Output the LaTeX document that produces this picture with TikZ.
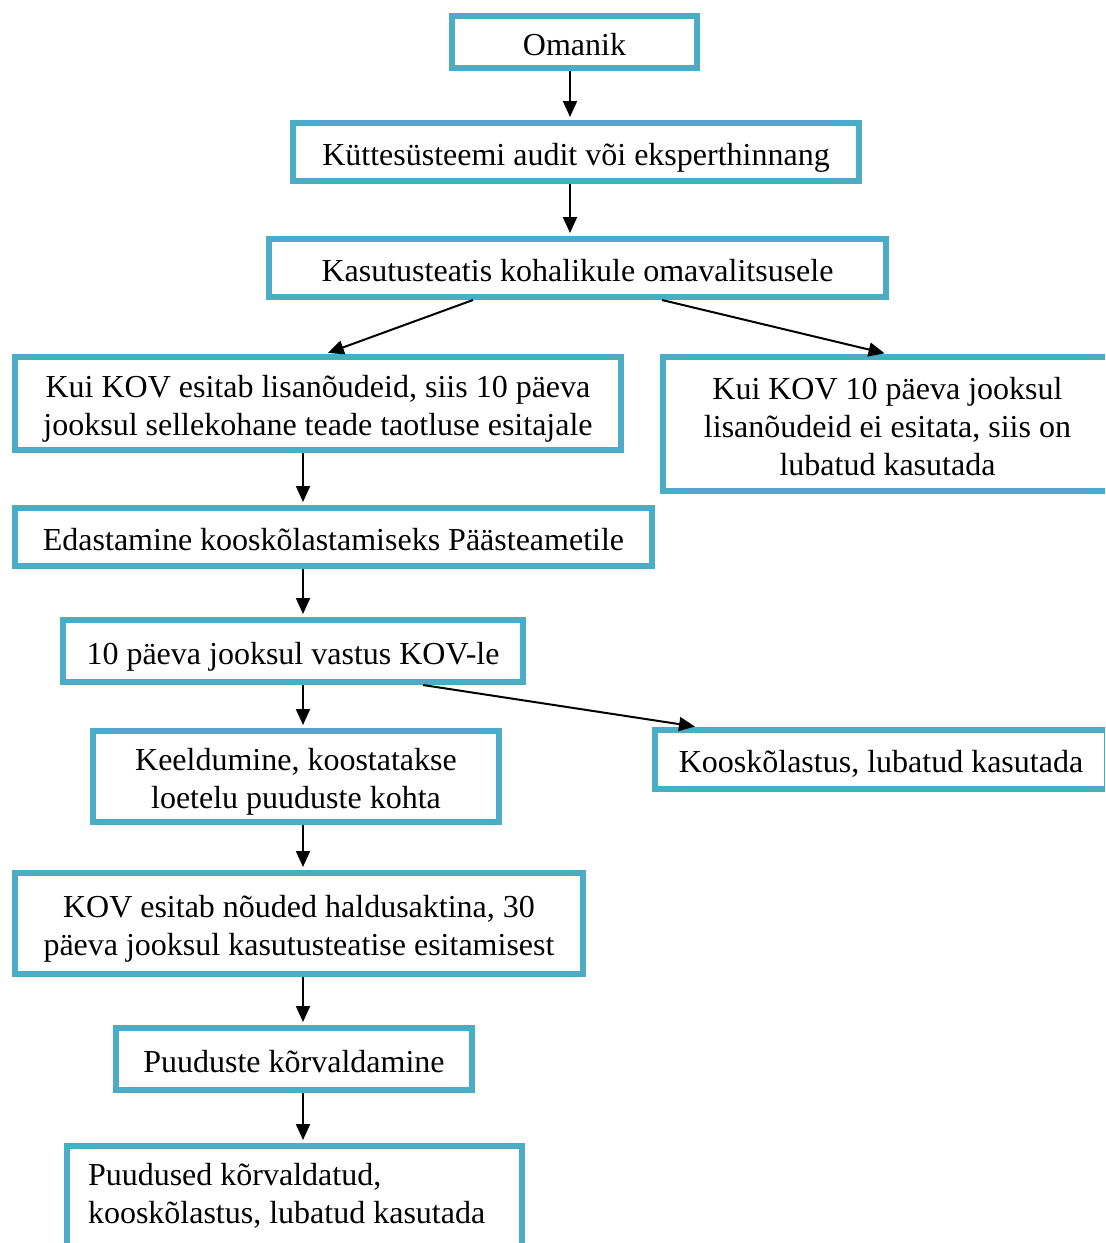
\documentclass[tikz,border=0pt]{standalone}
\usepackage{fontspec}
\setmainfont{Liberation Serif}
\usetikzlibrary{arrows.meta}
\definecolor{boxblue}{HTML}{4BACC6}

\tikzset{
  frame/.style={draw=boxblue, line width=3pt, fill=white, inner sep=0pt,
    font=\fontsize{16}{19}\selectfont},
  box/.style={frame, align=center,
    execute at begin node={\rule{0pt}{17pt}}, execute at end node={\rule[-4pt]{0pt}{4pt}}},
  multi/.style={text width=#1, align=flush center},
  arr/.style={-{Triangle[length=8pt,width=7pt]}, line width=1pt, shorten >=1.5pt}
}

\begin{document}
\begin{tikzpicture}[x=0.5pt,y=-0.5pt]
            \useasboundingbox (0,0) rectangle (1105,1243);
            \clip (0,0) rectangle (1105,1243);

            \node[box, minimum width=122.5pt, minimum height=26pt] (omanik) at (574.5,42) {Omanik};
            \node[box, minimum width=283pt, minimum height=29pt] (audit) at (576,152) {Küttesüsteemi audit või eksperthinnang};
            \node[box, minimum width=308.5pt, minimum height=29pt] (teatis) at (577.5,268) {Kasutusteatis kohalikule omavalitsusele};

            \node[box, multi=290pt, minimum width=303pt, minimum height=46.5pt] (lisa) at (318,403.5)
              {Kui KOV esitab lisanõudeid, siis 10 päeva\\ jooksul sellekohane teade taotluse esitajale};
            \node[box, multi=210pt, minimum width=224.5pt, minimum height=67pt] (lubatud) at (887.5,424)
              {Kui KOV 10 päeva jooksul\\ lisanõudeid ei esitata, siis on\\ lubatud kasutada};

            \node[box, minimum width=318.5pt, minimum height=29pt] (edastus) at (333.5,537) {Edastamine kooskõlastamiseks Päästeametile};
            \node[box, minimum width=230pt, minimum height=31pt] (vastus) at (293,651) {10 päeva jooksul vastus KOV-le};
            \node[box, multi=190pt, minimum width=203pt, minimum height=45.5pt] (keeld) at (296,776.5)
              {Keeldumine, koostatakse\\ loetelu puuduste kohta};
            \node[box, minimum width=226pt, minimum height=29.5pt] (koosk) at (881,759.5) {Kooskõlastus, lubatud kasutada};

            \node[box, multi=270pt, minimum width=284pt, minimum height=50.5pt] (noud) at (299,923.5)
              {KOV esitab nõuded haldusaktina, 30\\ päeva jooksul kasutusteatise esitamisest};
            \node[box, minimum width=178pt, minimum height=31pt] (puudus) at (294,1059) {Puuduste kõrvaldamine};
            \node[frame, align=flush left, text width=206.5pt, inner xsep=10.5pt, minimum height=50pt] (lopp) at (294.5,1196)
              {Puudused kõrvaldatud,\\ kooskõlastus, lubatud kasutada};

            % arrows
            \coordinate (top) at (570,0);
            \coordinate (mid) at (303,0);
            \foreach \a/\b in {omanik/audit, audit/teatis}{
              \draw[arr] (\a.south -| top) -- (\b.north -| top);
            }
            \foreach \a/\b in {lisa/edastus, edastus/vastus, vastus/keeld, keeld/noud, noud/puudus, puudus/lopp}{
              \draw[arr] (\a.south -| mid) -- (\b.north -| mid);
            }

            \draw[arr] ([xshift=-52.25pt]teatis.south) -- ([xshift=3.5pt]lisa.north);
            \draw[arr] ([xshift=42.25pt]teatis.south) -- (lubatud.north);
            \draw[arr] ([xshift=65pt]vastus.south) -- ([xshift=-91.5pt]koosk.north);
        \end{tikzpicture}
\end{document}
